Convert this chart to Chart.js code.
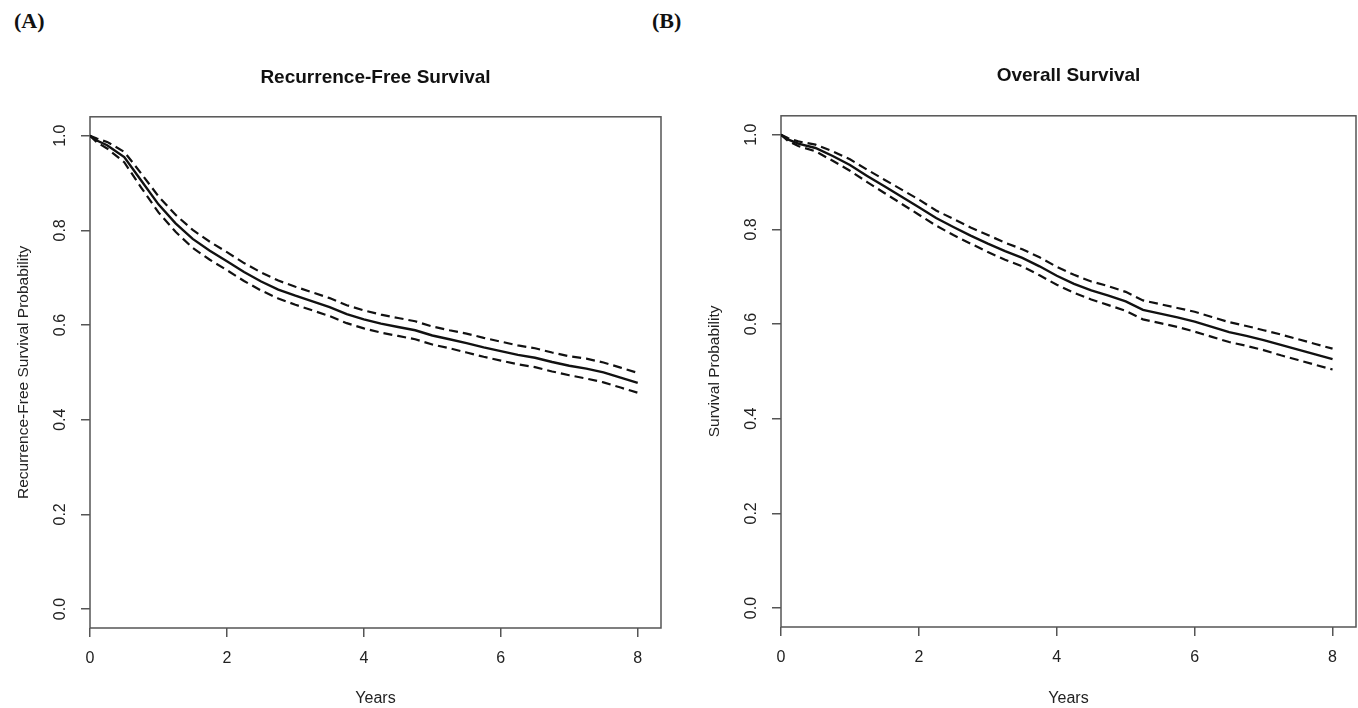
<!DOCTYPE html>
<html>
<head>
<meta charset="utf-8">
<script src="https://cdn.jsdelivr.net/npm/chart.js@4.4.1/dist/chart.umd.min.js"></script>
<style>
  html, body { margin: 0; padding: 0; background: #fff; }
  body { width: 1358px; height: 708px; position: relative; overflow: hidden; }
  canvas { position: absolute; top: 0; }
  .tag { position: absolute; top: 8px; font: bold 22px "Liberation Serif", "Times New Roman", serif; color: #111; }
</style>
</head>
<body>
<div class="tag" style="left:14px">(A)</div>
<div class="tag" style="left:652px">(B)</div>
<canvas id="graficoRFS" width="680" height="708" style="left:0"></canvas>
<canvas id="graficoOS" width="678" height="708" style="left:680px"></canvas>
<script>
// anos de seguimento
const years = [0, 0.1, 0.25, 0.5, 0.75, 1, 1.25, 1.5, 1.75, 2, 2.25, 2.5, 2.75, 3, 3.25, 3.5, 3.75,
  4, 4.25, 4.5, 4.75, 5, 5.25, 5.5, 5.75, 6, 6.25, 6.5, 6.75, 7, 7.25, 7.5, 7.75, 8]

// (A) recurrence-free survival
const rfsEst = [1.000, 0.990, 0.980, 0.955, 0.905, 0.855, 0.815, 0.782, 0.757, 0.735, 0.712, 0.692, 0.675, 0.662, 0.650, 0.638, 0.623,
  0.612, 0.603, 0.596, 0.589, 0.578, 0.570, 0.562, 0.553, 0.545, 0.537, 0.531, 0.522, 0.514, 0.508, 0.500, 0.489, 0.478]
const rfsUpper = [1.000, 0.994, 0.987, 0.966, 0.920, 0.872, 0.833, 0.801, 0.776, 0.754, 0.731, 0.711, 0.694, 0.681, 0.669, 0.657, 0.642,
  0.631, 0.622, 0.615, 0.608, 0.597, 0.589, 0.582, 0.573, 0.565, 0.557, 0.551, 0.542, 0.534, 0.529, 0.521, 0.510, 0.499]
const rfsLower = [1.000, 0.986, 0.973, 0.944, 0.890, 0.838, 0.797, 0.763, 0.738, 0.716, 0.693, 0.673, 0.656, 0.643, 0.631, 0.619, 0.604,
  0.593, 0.584, 0.577, 0.570, 0.559, 0.551, 0.542, 0.533, 0.525, 0.517, 0.511, 0.502, 0.494, 0.487, 0.479, 0.468, 0.457]

// (B) overall survival
const osEst = [1.000, 0.990, 0.981, 0.972, 0.955, 0.936, 0.913, 0.891, 0.869, 0.847, 0.824, 0.805, 0.787, 0.770, 0.754, 0.740, 0.722,
  0.702, 0.685, 0.671, 0.660, 0.648, 0.630, 0.622, 0.614, 0.605, 0.594, 0.583, 0.575, 0.566, 0.556, 0.546, 0.536, 0.526]
const osUpper = [1.000, 0.993, 0.986, 0.979, 0.965, 0.948, 0.926, 0.905, 0.884, 0.863, 0.840, 0.822, 0.804, 0.788, 0.772, 0.758, 0.741,
  0.721, 0.704, 0.690, 0.680, 0.668, 0.650, 0.642, 0.634, 0.626, 0.615, 0.604, 0.596, 0.587, 0.578, 0.568, 0.558, 0.548]
const osLower = [1.000, 0.987, 0.976, 0.965, 0.945, 0.924, 0.900, 0.877, 0.854, 0.831, 0.808, 0.788, 0.770, 0.752, 0.736, 0.722, 0.703,
  0.683, 0.666, 0.652, 0.640, 0.628, 0.610, 0.602, 0.594, 0.584, 0.573, 0.562, 0.554, 0.545, 0.534, 0.524, 0.514, 0.504]

const xTicks = [0, 2, 4, 6, 8]
const yTicks = [0, 0.2, 0.4, 0.6, 0.8, 1.0]

const fonte = '"Liberation Sans", Arial, sans-serif'
const cinza = '#555'

// moldura em volta da area do grafico, como o box() do R
const caixa = {
  id: 'caixa',
  beforeDatasetsDraw (chart) {
    const {ctx, chartArea: a} = chart
    ctx.save()
    ctx.strokeStyle = cinza
    ctx.lineWidth = 1.5
    ctx.strokeRect(a.left, a.top, a.right - a.left, a.bottom - a.top)
    ctx.restore()
  }
}

function pontos (valores) {
  return years.map((t, i) => ({x: t, y: valores[i]}))
}

function linha (valores, tracejada) {
  return {
    data: pontos(valores),
    borderColor: '#111',
    borderWidth: tracejada ? 2.2 : 2.4,
    borderDash: tracejada ? [9, 5] : [],
    pointRadius: 0,
    tension: 0,
    fill: false
  }
}

function criaGrafico (id, titulo, tituloY, est, sup, inf, pad) {
  return new Chart(document.getElementById(id), {
    type: 'line',
    data: {
      datasets: [linha(est, false), linha(sup, true), linha(inf, true)]
    },
    plugins: [caixa],
    options: {
      responsive: false,
      animation: false,
      events: [],
      layout: {padding: {left: pad.left, right: pad.right, top: pad.top, bottom: 0}},
      plugins: {
        legend: {display: false},
        tooltip: {enabled: false},
        title: {
          display: true,
          text: titulo,
          fullSize: false,
          color: '#111',
          font: {family: fonte, size: 19, weight: 'bold', lineHeight: 1.2},
          padding: {top: 0, bottom: pad.titleGap}
        }
      },
      scales: {
        x: {
          type: 'linear',
          min: 0,
          max: 8.34,
          afterBuildTicks: s => { s.ticks = xTicks.map(v => ({value: v})) },
          afterFit: s => { s.height = pad.xHeight },
          border: {display: false},
          grid: {display: true, drawOnChartArea: false, drawTicks: true, tickLength: 9, color: cinza, lineWidth: 1.5},
          ticks: {color: '#222', font: {family: fonte, size: 16, lineHeight: 1.2}, padding: 12, maxRotation: 0, autoSkip: false},
          title: {display: true, text: 'Years', color: '#222', font: {family: fonte, size: 16, lineHeight: 1.2}, padding: {top: 0, bottom: 0}}
        },
        y: {
          type: 'linear',
          min: -0.04,
          max: 1.04,
          afterBuildTicks: s => { s.ticks = yTicks.map(v => ({value: v})) },
          afterFit: s => { s.width = 80 },
          border: {display: false},
          grid: {display: true, drawOnChartArea: false, drawTicks: true, tickLength: 9, color: cinza, lineWidth: 1.5},
          ticks: {
            color: '#222', font: {family: fonte, size: 16}, padding: 9, autoSkip: false,
            minRotation: 90, maxRotation: 90, crossAlign: 'center',
            callback: v => v.toFixed(1)
          },
          title: {display: true, text: tituloY, color: '#222', font: {family: fonte, size: 15.5, lineHeight: 1.2}, padding: {top: 4, bottom: 0}}
        }
      }
    }
  })
}

const graficoRFS = criaGrafico('graficoRFS', 'Recurrence-Free Survival', 'Recurrence-Free Survival Probability',
  rfsEst, rfsUpper, rfsLower, {left: 10, right: 19, top: 66, titleGap: 28, xHeight: 80})

const graficoOS = criaGrafico('graficoOS', 'Overall Survival', 'Survival Probability',
  osEst, osUpper, osLower, {left: 21, right: 2, top: 64, titleGap: 29, xHeight: 81})
</script>
</body>
</html>
